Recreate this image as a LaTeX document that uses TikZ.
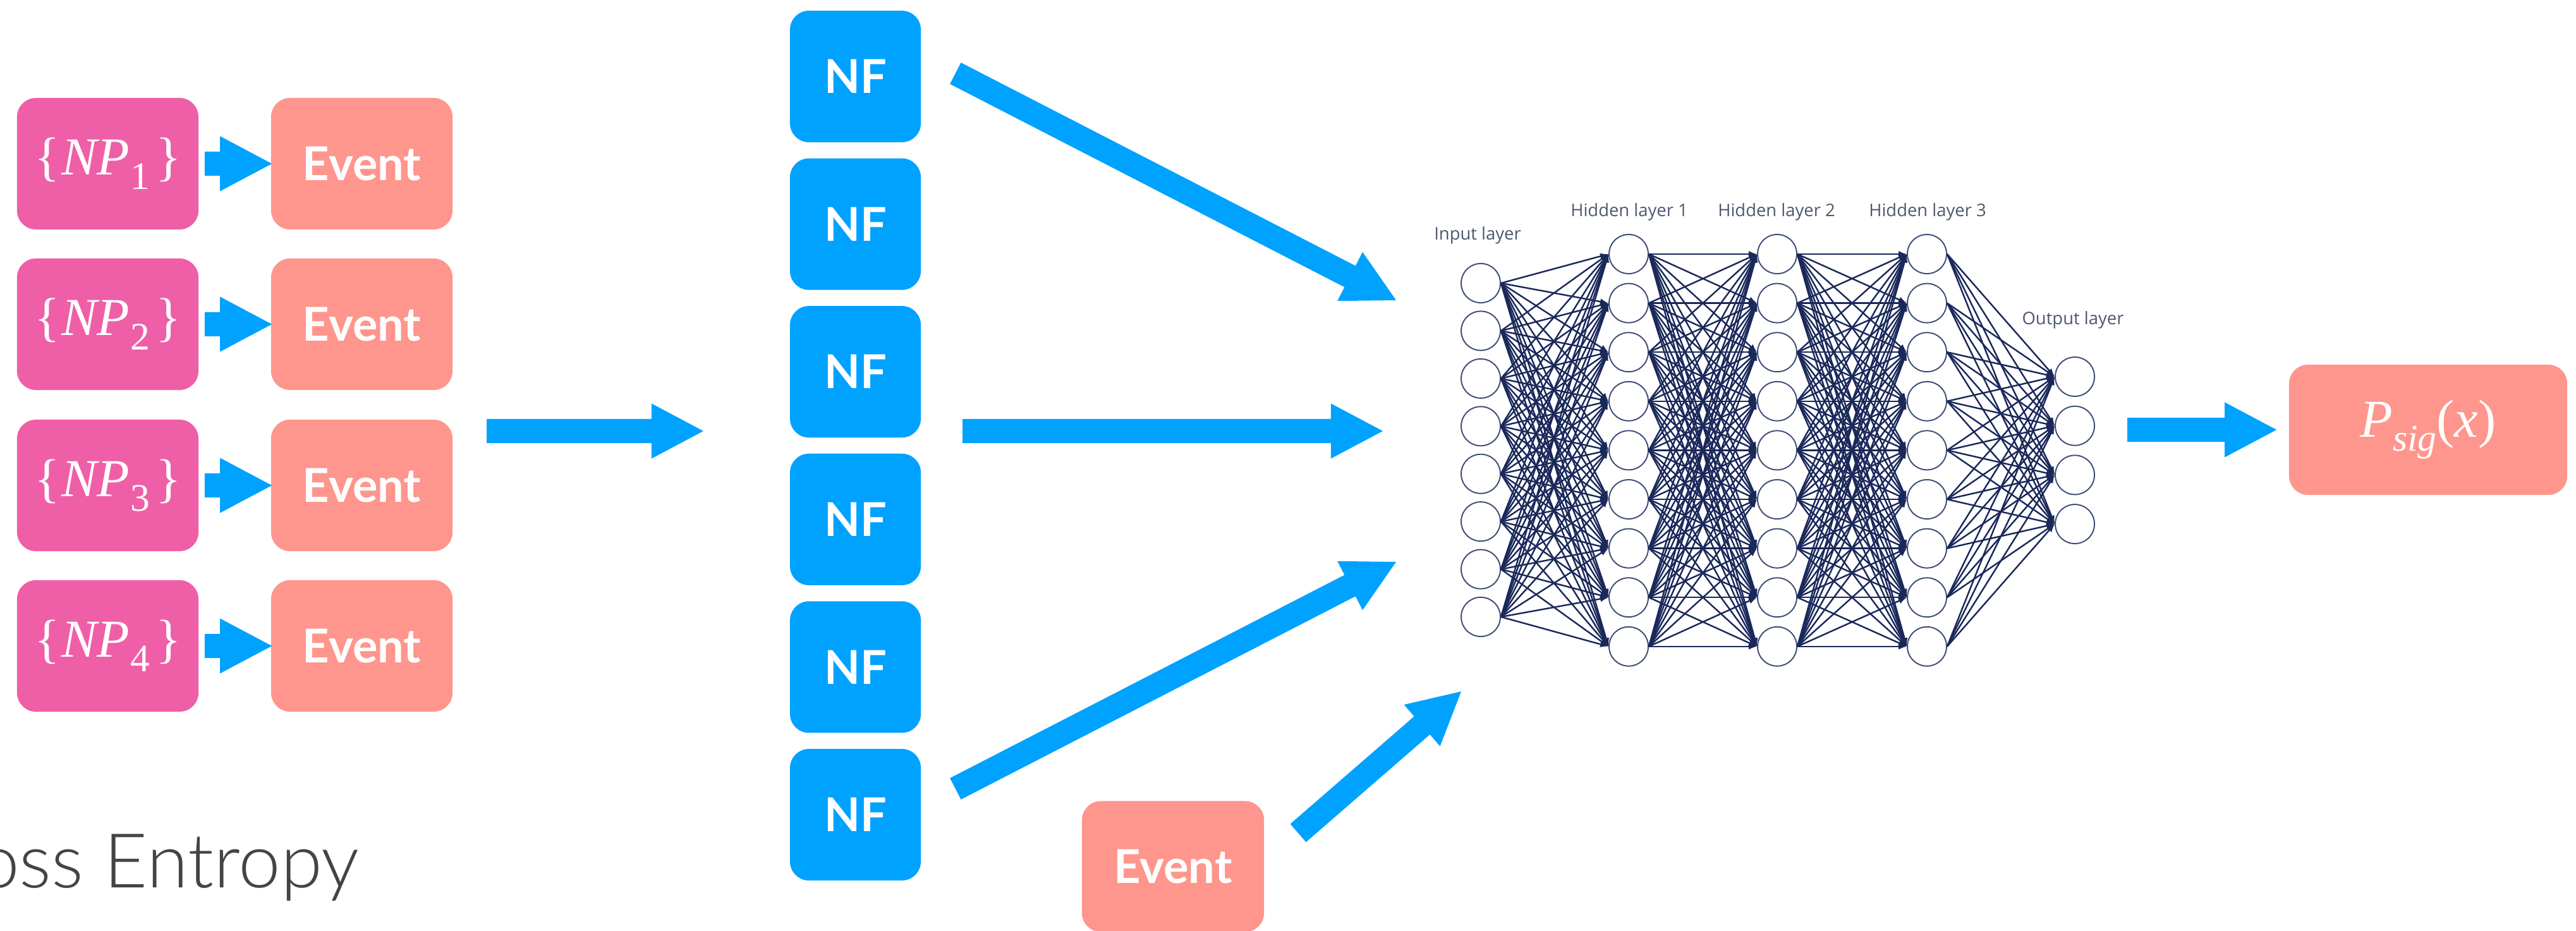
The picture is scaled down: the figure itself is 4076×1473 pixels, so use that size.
\documentclass[tikz,border=0pt]{standalone}
\usepackage{fontspec}
\setmainfont{Liberation Serif}
\newfontfamily\boxfont{Lato}
\newfontfamily\netfont{Open Sans}
\newfontfamily\lightfont{Lato Light}
\usetikzlibrary{calc,arrows.meta}

\definecolor{flowblue}{RGB}{0,162,255}
\definecolor{salmon}{RGB}{254,150,141}
\definecolor{npink}{RGB}{239,95,167}
\definecolor{netline}{RGB}{26,40,90}
\definecolor{netcircle}{RGB}{62,76,118}
\definecolor{labelgray}{RGB}{78,88,112}
\definecolor{entropygray}{RGB}{68,68,68}

% thick flat arrow from coordinate #1 to coordinate #2 (shaft 38, head 87 x 82)
\newcommand\blockarrow[2]{%
  \coordinate (bacut) at ($(#2)!0.82cm!(#1)$);
  \fill[flowblue] ($(#1)!0.19cm!90:(#2)$) -- ($(bacut)!0.19cm!-90:(#1)$)
    -- ($(bacut)!0.435cm!-90:(#1)$) -- (#2) -- ($(bacut)!0.435cm!90:(#1)$)
    -- ($(bacut)!0.19cm!90:(#1)$) -- ($(#1)!0.19cm!-90:(#2)$) -- cycle;}

% subscripted maths-like labels set in the serif text font
\newcommand\npset[1]{\{\kern0.03em\textit{NP}\kern0.02em\raisebox{-0.27em}{\fontsize{17.5pt}{17.5pt}\selectfont #1}\kern0.1em\}}

\tikzset{
  block/.style={rounded corners=0.3cm, inner sep=0pt, minimum height=2.08cm, text=white},
  npbox/.style={block, fill=npink, minimum width=2.87cm, font=\fontsize{24pt}{28pt}\selectfont},
  evbox/.style={block, fill=salmon, minimum width=2.87cm, font=\boxfont\bfseries\fontsize{21pt}{25pt}\selectfont},
  nfbox/.style={block, fill=flowblue, minimum width=2.07cm, font=\boxfont\bfseries\fontsize{21pt}{25pt}\selectfont},
  neuron/.style={circle, draw=netcircle, line width=0.55pt, fill=white, minimum size=0.62cm, inner sep=0pt},
  synapse/.style={draw=netline, line width=0.7pt, -{Latex[length=0.13cm,width=0.10cm]}},
  layerlabel/.style={font=\netfont\fontsize{7.8pt}{9pt}\selectfont, text=labelgray, inner sep=0pt},
}

\begin{document}
\begin{tikzpicture}[x=0.01cm, y=-0.01cm]
\useasboundingbox (0,0) rectangle (4076,1473);
\clip (0,0) rectangle (4076,1473);

% parameter sets and the events generated from them
\foreach \r/\y in {1/259, 2/513, 3/768, 4/1022} {
  \node[npbox] (np\r) at (170.5,\y) {\npset{\r}};
  \node[evbox] (ev\r) at (572.5,\y) {Event};
  \coordinate (sa\r) at ($(np\r.east)+(9,0)$);
  \coordinate (ta\r) at ($(ev\r.west)+(2,0)$);
  \blockarrow{sa\r}{ta\r}
}

\node[anchor=base east, inner sep=0pt, text=entropygray,
      font=\lightfont\fontsize{34pt}{40pt}\selectfont] (loss) at (569,1404) {Cross Entropy};

\coordinate (bigs) at (770,682);
\coordinate (bigt) at (1113,682);
\blockarrow{bigs}{bigt}

% the stack of NF boxes
\foreach \k in {1,...,6}
  \node[nfbox] (nf\k) at (1353.5,{121+(\k-1)*233.6}) {NF};

\node[evbox, minimum height=2.07cm, minimum width=2.88cm] (evx) at (1856,1371) {Event};

% arrows into the network
\coordinate (f1s) at ($(nf1.east)+(54,-5)$);
\coordinate (f1t) at (2209,475);
\coordinate (f2s) at (1523,682);
\coordinate (f2t) at (2188,682);
\coordinate (f3s) at ($(nf6.east)+(54,-41)$);
\coordinate (f3t) at (2209,889);
\coordinate (e0s) at (2054,1318);
\coordinate (e0t) at (2312,1094);
\blockarrow{f1s}{f1t}
\blockarrow{f2s}{f2t}
\blockarrow{f3s}{f3t}
\blockarrow{e0s}{e0t}

% fully connected network
\foreach \i in {1,...,8}
  \node[neuron] (in\i) at (2343,{448+(\i-1)*75.43}) {};
\foreach \j in {1,...,9} {
  \node[neuron] (ha\j) at (2577,{402+(\j-1)*77.6}) {};
  \node[neuron] (hb\j) at (2812,{402+(\j-1)*77.6}) {};
  \node[neuron] (hc\j) at (3049,{402+(\j-1)*77.6}) {};
}
\foreach \k in {1,...,4}
  \node[neuron] (out\k) at (3283,{596+(\k-1)*77.7}) {};

\foreach \i in {1,...,8}
  \foreach \j in {1,...,9}
    \draw[synapse] (in\i.east) -- (ha\j.west);
\foreach \i in {1,...,9}
  \foreach \j in {1,...,9} {
    \draw[synapse] (ha\i.east) -- (hb\j.west);
    \draw[synapse] (hb\i.east) -- (hc\j.west);
  }
\foreach \i in {1,...,9}
  \foreach \k in {1,...,4}
    \draw[synapse] (hc\i.east) -- (out\k.west);

\node[layerlabel] (lin) at (2338,372) {Input layer};
\node[layerlabel] (lh1) at (2578,335) {Hidden layer 1};
\node[layerlabel] (lh2) at (2811,335) {Hidden layer 2};
\node[layerlabel] (lh3) at (3050,335) {Hidden layer 3};
\node[layerlabel] (lout) at (3280,506) {Output layer};

% network output
\node[block, fill=salmon, minimum width=4.4cm, minimum height=2.06cm,
      font=\fontsize{24pt}{28pt}\selectfont] (psig) at (3842,680)
  {\textit{P}\raisebox{-0.26em}{\fontsize{17pt}{17pt}\selectfont\textit{sig}}(\textit{x})};
\coordinate (ps) at (3366,680);
\coordinate (pt) at ($(psig.west)+(-19,0)$);
\blockarrow{ps}{pt}
\end{tikzpicture}
\end{document}
